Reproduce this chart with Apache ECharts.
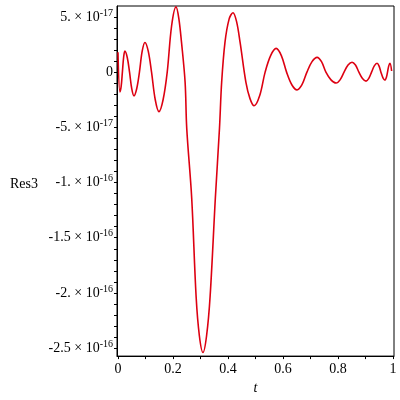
<!DOCTYPE html>
<html>
<head>
<meta charset="utf-8">
<script src="https://cdn.jsdelivr.net/npm/echarts@6/dist/echarts.min.js"></script>
<style>html,body{margin:0;padding:0;background:#fff}#c{width:400px;height:400px}</style>
</head>
<body>
<div id="c"></div>
<script>
// t values
const tVals = [0, 0.007, 0.0115, 0.016, 0.0205, 0.025, 0.0335, 0.042, 0.050, 0.058, 0.068, 0.078, 0.088, 0.098, 0.110, 0.122, 0.1355, 0.149, 0.164, 0.179, 0.195, 0.211, 0.221, 0.231, 0.244, 0.25, 0.268, 0.284, 0.296, 0.309, 0.322, 0.335, 0.354, 0.369, 0.377, 0.389, 0.404, 0.418, 0.431, 0.444, 0.465, 0.48, 0.495, 0.515, 0.535, 0.555, 0.575, 0.594, 0.613, 0.632, 0.651, 0.669, 0.687, 0.7055, 0.724, 0.74, 0.756, 0.7745, 0.793, 0.8075, 0.822, 0.8365, 0.851, 0.8635, 0.876, 0.889, 0.902, 0.912, 0.922, 0.932, 0.942, 0.949, 0.956, 0.9635, 0.971, 0.9755, 0.98, 0.9845, 0.989, 0.995];
// Res3 values in units of 1e-17
const res3 = [1.8, -1.8, -1.3, 0, 1.35, 1.9, 1.35, 0, -1.5, -2.15, -1.5, 0, 1.9, 2.69, 1.9, 0, -2.5, -3.58, -2.5, 0, 4.2, 5.91, 4.9, 2.69, -0.9, -5.1, -11.4, -20.3, -23.9, -25.4, -23.9, -20.3, -11.4, -5.1, -0.9, 2.69, 4.8, 5.38, 4.6, 2.69, -0.9, -2.4, -3.05, -2.15, 0, 1.5, 2.15, 1.5, 0, -1.14, -1.61, -1.14, 0, 0.95, 1.34, 0.95, 0, -0.7, -0.99, -0.7, 0, 0.64, 0.90, 0.64, 0, -0.57, -0.81, -0.57, 0, 0.57, 0.81, 0.57, 0, -0.51, -0.72, -0.51, 0, 0.57, 0.81, 0.1];
// tick labels
const xTickVals = [0, 0.2, 0.4, 0.6, 0.8, 1];
const xTickLabels = ['0', '0.2', '0.4', '0.6', '0.8', '1'];
const xMinorVals = [0, 0.1, 0.2, 0.3, 0.4, 0.5, 0.6, 0.7, 0.8, 0.9, 1];
const yTickVals = [5, 0, -5, -10, -15, -20, -25];
const yMantissa = ['5.', '0', '-5.', '-1.', '-1.5', '-2.', '-2.5'];
const yExponent = ['-17', '', '-17', '-16', '-16', '-16', '-16'];
const yMinorVals = [];
for (let v = -25; v <= 5; v++) yMinorVals.push(v);

const chart = echarts.init(document.getElementById('c'));
const serif = 'Liberation Serif';
chart.setOption({
  animation: false,
  grid: { left: 117, right: 6, top: 6, bottom: 40, show: true, borderColor: '#000', borderWidth: 1 },
  xAxis: {
    type: 'value', min: -0.0036, max: 1.0036,
    name: 't', nameLocation: 'middle', nameGap: 24,
    nameTextStyle: { fontFamily: serif, fontStyle: 'italic', fontSize: 14, color: '#000' },
    axisLine: { show: true, onZero: false, lineStyle: { color: '#000', width: 1 } },
    axisTick: { show: true, length: 3, customValues: xMinorVals, lineStyle: { color: '#000' } },
    axisLabel: {
      customValues: xTickVals, margin: 6, fontFamily: serif, fontSize: 14, color: '#000',
      formatter: v => { const i = xTickVals.findIndex(x => Math.abs(x - v) < 1e-9); return i >= 0 ? xTickLabels[i] : ''; }
    },
    splitLine: { show: false }
  },
  yAxis: {
    type: 'value', min: -25.72, max: 5.99,
    axisLine: { show: true, onZero: false, lineStyle: { color: '#000', width: 1 } },
    axisTick: { show: true, length: 3, customValues: yMinorVals, lineStyle: { color: '#000' } },
    axisLabel: {
      customValues: yTickVals, margin: 4, color: '#000',
      formatter: v => {
        const i = yTickVals.findIndex(x => Math.abs(x - v) < 1e-9);
        if (i < 0) return '';
        if (!yExponent[i]) return '{b|' + yMantissa[i] + '}';
        return '{b|' + yMantissa[i] + ' \u00d7 10}{s|' + yExponent[i] + '}';
      },
      rich: {
        b: { fontFamily: serif, fontSize: 14, color: '#000', lineHeight: 18 },
        s: { fontFamily: serif, fontSize: 10, color: '#000', lineHeight: 10, verticalAlign: 'top' }
      }
    },
    splitLine: { show: false }
  },
  graphic: [{
    type: 'text', left: 10, top: 177,
    style: { text: 'Res3', font: '14px "Liberation Serif"', fill: '#000' }
  }],
  series: [{
    type: 'line', showSymbol: false, smooth: 0.35,
    lineStyle: { color: '#dd0011', width: 1.6 },
    data: tVals.map((t, i) => [t, res3[i]])
  }]
});
</script>
</body>
</html>
